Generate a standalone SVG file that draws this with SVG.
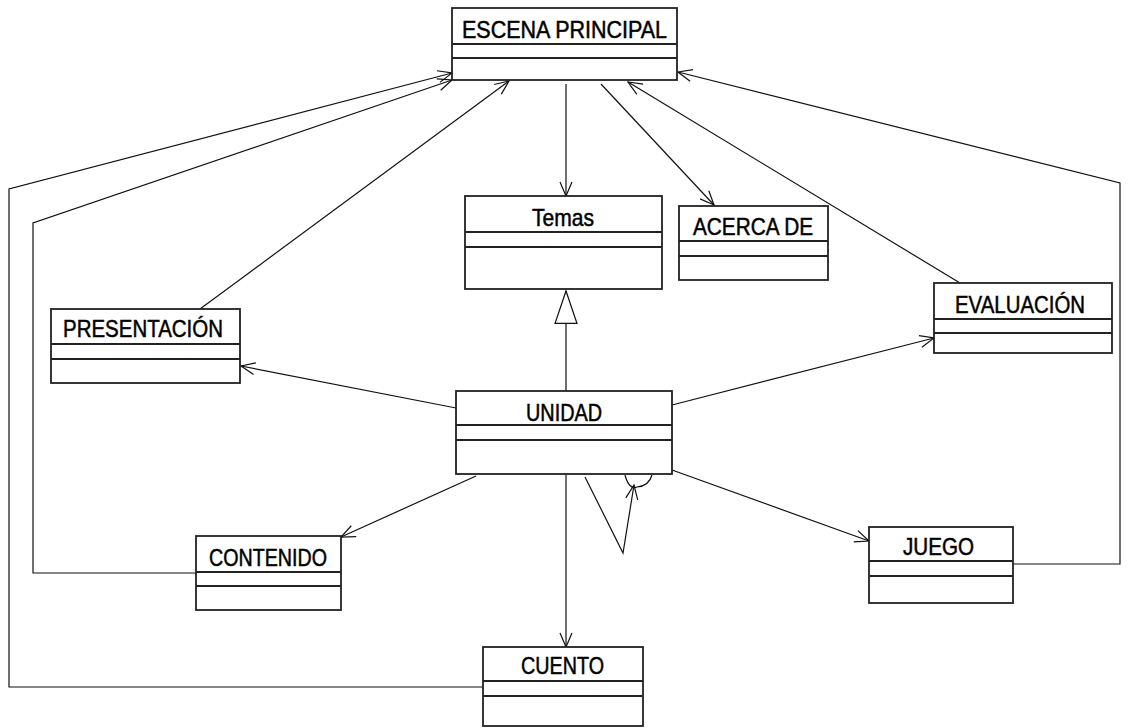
<svg xmlns="http://www.w3.org/2000/svg" width="1129" height="728" viewBox="0 0 1129 728">
<style>
.box{fill:#fff;stroke:#222;stroke-width:1.8}
.div{stroke:#222;stroke-width:1.8}
.lbl{font-family:"Liberation Sans",Arial,sans-serif;font-size:24px;fill:#000;stroke:#000;stroke-width:0.5;text-anchor:start}
.c{fill:none;stroke:#111;stroke-width:1.2}
</style>
<defs>
<marker id="open" markerUnits="userSpaceOnUse" markerWidth="20" markerHeight="20" viewBox="-16 -10 20 20" refX="0" refY="0" orient="auto" overflow="visible">
<path d="M-14,-6 L0,0 L-14,6" fill="none" stroke="#111" stroke-width="1.2"/>
</marker>
<marker id="tri" markerUnits="userSpaceOnUse" markerWidth="40" markerHeight="40" viewBox="-40 -20 42 40" refX="0" refY="0" orient="auto" overflow="visible">
<path d="M-34,-11.5 L0,0 L-34,11.5 Z" fill="#fff" stroke="#111" stroke-width="1.3"/>
</marker>
</defs>
<rect width="1129" height="728" fill="#fff"/>

<g id="connectors">
<line class="c" x1="566" y1="84" x2="566" y2="196" marker-end="url(#open)"/>
<line class="c" x1="601" y1="84" x2="714" y2="205" marker-end="url(#open)"/>
<line class="c" x1="960" y1="283" x2="628" y2="82" marker-end="url(#open)"/>
<polyline class="c" points="1013,564 1120,564 1120,183 678,72" marker-end="url(#open)"/>
<line class="c" x1="200" y1="309" x2="509" y2="81" marker-end="url(#open)"/>
<polyline class="c" points="196,573 33,573 33,223 452,80" marker-end="url(#open)"/>
<polyline class="c" points="483,687 9,687 9,189 452,73" marker-end="url(#open)"/>
<line class="c" x1="566" y1="391" x2="566" y2="291" marker-end="url(#tri)"/>
<line class="c" x1="456" y1="408" x2="241" y2="366" marker-end="url(#open)"/>
<line class="c" x1="672" y1="405" x2="934" y2="338" marker-end="url(#open)"/>
<line class="c" x1="476" y1="476" x2="341" y2="537" marker-end="url(#open)"/>
<line class="c" x1="672" y1="470" x2="869" y2="541" marker-end="url(#open)"/>
<line class="c" x1="566" y1="475" x2="566" y2="647" marker-end="url(#open)"/>
<polyline class="c" points="585,477 623,553 634,485" marker-end="url(#open)"/>
<path class="c" d="M625,475 Q629,490 637,487 Q649,486 652,475"/>
</g>

<g id="escena">
<rect class="box" x="452" y="8" width="225" height="72"/>
<line class="div" x1="452" y1="44" x2="677" y2="44"/>
<line class="div" x1="452" y1="58" x2="677" y2="58"/>
<text class="lbl" x="462" y="38" textLength="205" lengthAdjust="spacingAndGlyphs">ESCENA PRINCIPAL</text>
</g>

<g id="temas">
<rect class="box" x="465" y="196" width="197" height="93"/>
<line class="div" x1="465" y1="232" x2="662" y2="232"/>
<line class="div" x1="465" y1="247" x2="662" y2="247"/>
<text class="lbl" x="532" y="226" textLength="62" lengthAdjust="spacingAndGlyphs">Temas</text>
</g>

<g id="acerca">
<rect class="box" x="679" y="206" width="149" height="74"/>
<line class="div" x1="679" y1="241" x2="828" y2="241"/>
<line class="div" x1="679" y1="256" x2="828" y2="256"/>
<text class="lbl" x="693" y="235" textLength="120" lengthAdjust="spacingAndGlyphs">ACERCA DE</text>
</g>

<g id="presentacion">
<rect class="box" x="51" y="309" width="189" height="74"/>
<line class="div" x1="51" y1="344" x2="240" y2="344"/>
<line class="div" x1="51" y1="359" x2="240" y2="359"/>
<text class="lbl" x="63" y="337" textLength="160" lengthAdjust="spacingAndGlyphs">PRESENTACIÓN</text>
</g>

<g id="unidad">
<rect class="box" x="456" y="391" width="216" height="83"/>
<line class="div" x1="456" y1="425" x2="672" y2="425"/>
<line class="div" x1="456" y1="440" x2="672" y2="440"/>
<text class="lbl" x="526" y="421" textLength="76" lengthAdjust="spacingAndGlyphs">UNIDAD</text>
</g>

<g id="evaluacion">
<rect class="box" x="934" y="283" width="178" height="70"/>
<line class="div" x1="934" y1="319" x2="1112" y2="319"/>
<line class="div" x1="934" y1="333" x2="1112" y2="333"/>
<text class="lbl" x="955" y="313" textLength="130" lengthAdjust="spacingAndGlyphs">EVALUACIÓN</text>
</g>

<g id="contenido">
<rect class="box" x="196" y="536" width="145" height="74"/>
<line class="div" x1="196" y1="572" x2="341" y2="572"/>
<line class="div" x1="196" y1="586" x2="341" y2="586"/>
<text class="lbl" x="209" y="566" textLength="118" lengthAdjust="spacingAndGlyphs">CONTENIDO</text>
</g>

<g id="juego">
<rect class="box" x="869" y="527" width="144" height="76"/>
<line class="div" x1="869" y1="561" x2="1013" y2="561"/>
<line class="div" x1="869" y1="576" x2="1013" y2="576"/>
<text class="lbl" x="903" y="555" textLength="71" lengthAdjust="spacingAndGlyphs">JUEGO</text>
</g>

<g id="cuento">
<rect class="box" x="483" y="647" width="160" height="79"/>
<line class="div" x1="483" y1="681" x2="643" y2="681"/>
<line class="div" x1="483" y1="696" x2="643" y2="696"/>
<text class="lbl" x="521" y="674" textLength="83" lengthAdjust="spacingAndGlyphs">CUENTO</text>
</g>
</svg>
